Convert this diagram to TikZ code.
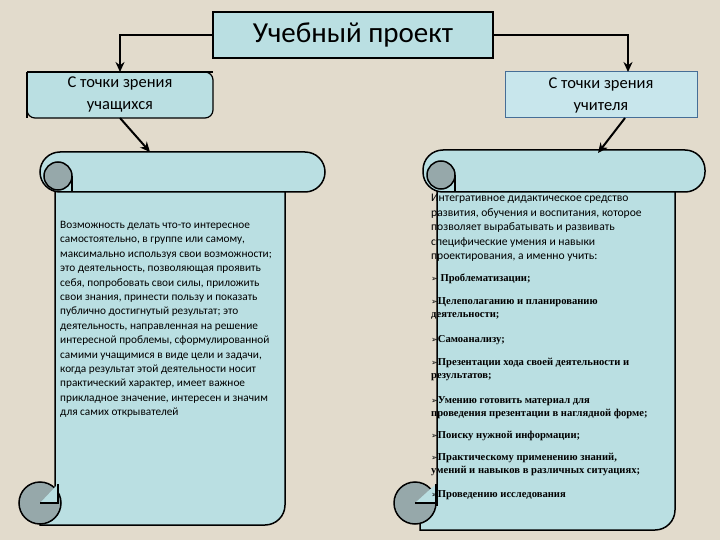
\documentclass[tikz,border=0pt]{standalone}
\usepackage{fontspec}
\setmainfont{Carlito}
\newfontfamily\serifb{Liberation Serif}
\newfontfamily\djv{DejaVu Sans}
\usetikzlibrary{arrows.meta}
\definecolor{bg}{RGB}{226,219,204}
\definecolor{boxblue}{RGB}{186,223,226}
\definecolor{boxblue2}{RGB}{200,230,236}
\definecolor{curlgray}{RGB}{150,168,170}
\definecolor{edgeblue}{RGB}{70,110,150}
\newcommand{\arr}{{\djv\fontsize{8}{10}\selectfont ➢}}
\begin{document}
\begin{tikzpicture}[x=1pt,y=-1pt,
  bx/.style={draw=black,line width=1.2pt,fill=boxblue},
  con/.style={line width=2pt,-{Stealth[length=10pt,width=9pt]}},
  sc/.style={draw=black,line width=1.5pt,fill=boxblue},
  curl/.style={draw=black,line width=1.5pt,fill=curlgray},
  lt/.style={anchor=north west,inner sep=0,font=\fontsize{11.3}{14.4}\selectfont,align=left},
  rt/.style={anchor=north west,inner sep=0,font=\fontsize{11.6}{14.5}\selectfont,align=left},
  it/.style={anchor=north west,inner sep=0,font=\serifb\bfseries\fontsize{10.6}{13}\selectfont,align=left}]
\fill[bg] (0,0) rectangle (720,540);
\useasboundingbox (0,0) rectangle (720,540);
% top boxes
\node[bx,minimum width=280pt,minimum height=46pt,font=\fontsize{29}{30}\selectfont] (t) at (353,35) {Учебный проект};
\draw[bx,rounded corners=8] (27,118) -- (27,72) -- (213,72) -- (213,118) -- cycle;
\fill[boxblue] (28,73) rectangle (205,100);
\draw[line width=1.2pt] (27,72) -- (27,118) (27,72) -- (213,72);
\node[inner sep=0,align=center,font=\fontsize{16.5}{22}\selectfont] (l) at (120,95) {С точки зрения\\учащихся};
\draw[draw=edgeblue,line width=1pt,fill=boxblue2] (505,72) rectangle (697,118);
\node[inner sep=0,align=center,font=\fontsize{16.5}{22}\selectfont] (r) at (601,95) {С точки зрения\\учителя};
\coordinate (lt) at (120,72); \coordinate (rt) at (628,72);
\draw[con] (t.west) -| (lt);
\draw[con] (t.east) -| (rt);
% left scroll
\draw[sc] (55,190) -- (285,190) -- (285,505) arc[start angle=0,end angle=90,radius=20] -- (40,525) -- (40,505) -- (55,505) -- cycle;
\draw[curl] (40,503) circle[radius=21];
\draw[sc] (40,503) -- (58,503) -- (58,484);
\draw[sc,rounded corners=20] (40,152) rectangle (325,192);
\draw[curl] (58,176) circle[radius=14];
\draw[sc] (72,176) -- (72,192);
\coordinate (ls) at (150,152);
\draw[con] (120,118) -- (ls);
% right scroll
\draw[sc] (437,190) -- (675,190) -- (675,510) arc[start angle=0,end angle=90,radius=20] -- (420,530) -- (420,505) -- (437,505) -- cycle;
\draw[curl] (415,503) circle[radius=21];
\draw[sc] (415,503) -- (436,503) -- (436,484);
\draw[sc,rounded corners=20] (423,150) rectangle (705,192);
\draw[curl] (441,175) circle[radius=14];
\draw[sc] (455,175) -- (455,192);
\coordinate (rs) at (598,153);
\draw[con] (625,118) -- (rs);
% left text
\node[lt] (ltext) at (60,221) {Возможность делать что-то интересное\\самостоятельно, в группе или самому,\\максимально используя свои возможности;\\это деятельность, позволяющая проявить\\себя, попробовать свои силы, приложить\\свои знания, принести пользу и показать\\публично достигнутый результат; это\\деятельность, направленная на решение\\интересной проблемы, сформулированной\\самими учащимися в виде цели и задачи,\\когда результат этой деятельности носит\\практический характер, имеет важное\\прикладное значение, интересен и значим\\для самих открывателей};
% right text
\node[rt] (rtext) at (431,194) {Интегративное дидактическое средство\\развития, обучения и воспитания, которое\\позволяет вырабатывать и развивать\\специфические умения и навыки\\проектирования, а именно учить:};
\node[it] (i1) at (431,274) {\arr\ Проблематизации;};
\node[it] (i2) at (431,297) {\arr Целеполаганию и планированию\\деятельности;};
\node[it] (i3) at (431,335) {\arr Самоанализу;};
\node[it] (i4) at (431,358) {\arr Презентации хода своей деятельности и\\результатов;};
\node[it] (i5) at (431,396) {\arr Умению готовить материал для\\проведения презентации в наглядной форме;};
\node[it] (i6) at (431,431) {\arr Поиску нужной информации;};
\node[it] (i7) at (431,453) {\arr Практическому применению знаний,\\умений и навыков в различных ситуациях;};
\node[it] (i8) at (431,490) {\arr Проведению исследования};
\end{tikzpicture}
\end{document}
